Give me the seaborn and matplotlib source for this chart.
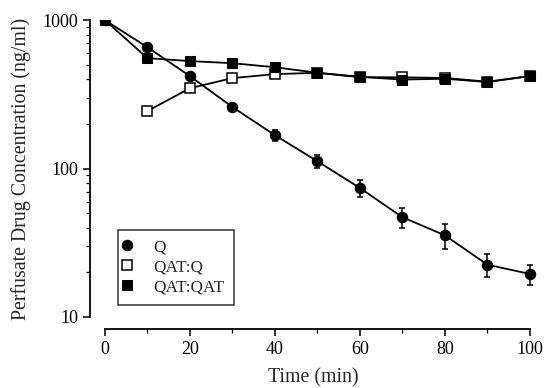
import numpy as np
import pandas as pd
import matplotlib
matplotlib.use("Agg")
import matplotlib.pyplot as plt
import matplotlib.ticker as mticker
import seaborn as sns

# Datos
time_q = [0, 10, 20, 30, 40, 50, 60, 70, 80, 90, 100]
conc_q = [1000, 658, 420, 260, 168, 112, 74, 47, 35.5, 22.5, 19.5]
err_q = [0, 0, 0, 0, 14, 11, 10, 7.5, 7, 4, 3]

time_qatq = [10, 20, 30, 40, 50, 60, 70, 80, 90, 100]
conc_qatq = [244, 348, 407, 433, 442, 413, 412, 408, 385, 420]

time_qatqat = [0, 10, 20, 30, 40, 50, 60, 70, 80, 90, 100]
conc_qatqat = [1000, 555, 530, 513, 482, 442, 415, 398, 403, 383, 420]

sns.set_style("ticks")
plt.rcParams['font.family'] = ['Liberation Serif', 'DejaVu Serif']

fig = plt.figure(figsize=(5.47, 3.88), dpi=100)
ax = fig.add_axes([0.1645, 0.183, 0.816, 0.765])

df_q = pd.DataFrame({'t': time_q, 'c': conc_q})
df_qq = pd.DataFrame({'t': time_qatq, 'c': conc_qatq})
df_qa = pd.DataFrame({'t': time_qatqat, 'c': conc_qatqat})

ax.errorbar(time_q, conc_q, yerr=err_q, fmt='none', ecolor='black',
            elinewidth=1.1, capsize=2.5, capthick=1.1, zorder=2)
sns.lineplot(data=df_qq, x='t', y='c', ax=ax, color='black', lw=1.3,
             marker='s', markersize=7, markerfacecolor='white',
             markeredgecolor='black', markeredgewidth=1.1, label='QAT:Q', zorder=3)
sns.lineplot(data=df_qa, x='t', y='c', ax=ax, color='black', lw=1.3,
             marker='s', markersize=7, markerfacecolor='black',
             markeredgecolor='black', label='QAT:QAT', zorder=4)
sns.lineplot(data=df_q, x='t', y='c', ax=ax, color='black', lw=1.3,
             marker='o', markersize=7.5, markerfacecolor='black',
             markeredgecolor='black', label='Q', zorder=5)

ax.set_yscale('log')
ax.set_ylim(10, 1000)
ax.set_xlim(-3.5, 101.5)
ax.set_yticks([10, 100, 1000])
ax.set_yticklabels(['10', '100', '1000'])
ax.yaxis.set_minor_locator(mticker.LogLocator(base=10, subs=np.arange(2, 10)))
ax.yaxis.set_minor_formatter(mticker.NullFormatter())
ax.set_xticks([0, 20, 40, 60, 80, 100])
ax.set_xticks([10, 30, 50, 70, 90], minor=True)

ax.spines['top'].set_visible(False)
ax.spines['right'].set_visible(False)
ax.spines['bottom'].set_position(('outward', 9))
ax.spines['bottom'].set_bounds(0, 100)
for s in ['left', 'bottom']:
    ax.spines[s].set_color('black')
    ax.spines[s].set_linewidth(1.3)
ax.tick_params(axis='both', which='major', length=5, width=1.1, colors='black',
               labelsize=13, direction='out')
ax.tick_params(axis='both', which='minor', length=3, width=0.9, colors='black')

ax.set_xlabel('Time (min)', fontsize=14.3, labelpad=7)
ax.set_ylabel('Perfusate Drug Concentration (ng/ml)', fontsize=14.3, labelpad=8)

handles, labels = ax.get_legend_handles_labels()
order = [labels.index('Q'), labels.index('QAT:Q'), labels.index('QAT:QAT')]
leg = ax.legend([handles[i] for i in order], [labels[i] for i in order],
                loc='lower left', bbox_to_anchor=(0.062, 0.042), frameon=True,
                fancybox=False, edgecolor='black', fontsize=12.4,
                handlelength=0, handletextpad=1.5, borderpad=0.55,
                labelspacing=0.22, borderaxespad=0)
leg.get_frame().set_linewidth(1.1)

fig.savefig('out.png', dpi=100)
